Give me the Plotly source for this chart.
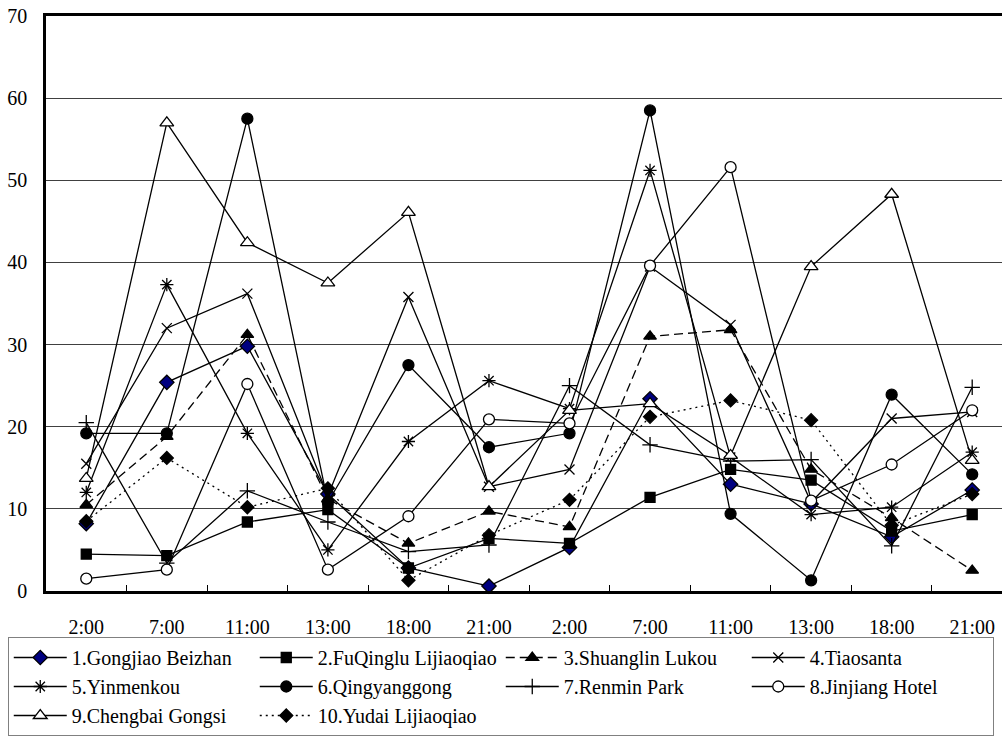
import plotly.graph_objects as go

# Time-of-day sampling slots over two consecutive days
time_labels = ["2:00", "7:00", "11:00", "13:00", "18:00", "21:00",
               "2:00", "7:00", "11:00", "13:00", "18:00", "21:00"]

gongjiao_beizhan = [8.2, 25.4, 29.8, 11.8, 2.8, 0.6, 5.3, 23.4, 13.0, 10.6, 6.6, 12.3]
fuqinglu_lijiaoqiao = [4.5, 4.3, 8.4, 9.9, 2.8, 6.4, 5.8, 11.4, 14.8, 13.5, 7.3, 9.3]
shuanglin_lukou = [10.5, 18.8, 31.2, 11.2, 5.8, 9.7, 7.8, 31.0, 31.8, 14.8, 8.9, 2.5]
tiaosanta = [15.5, 32.0, 36.2, 11.6, 35.8, 12.7, 14.8, 39.5, 32.4, 10.8, 21.0, 21.8]
yinmenkou = [12.0, 37.3, 19.2, 5.0, 18.2, 25.6, 22.2, 51.2, 16.3, 9.3, 10.2, 16.9]
qingyanggong = [19.2, 19.2, 57.5, 10.8, 27.5, 17.5, 19.2, 58.5, 9.4, 1.3, 23.9, 14.2]
renmin_park = [20.5, 3.4, 12.2, 8.4, 4.8, 5.6, 25.0, 17.8, 15.8, 16.0, 5.5, 24.8]
jinjiang_hotel = [1.5, 2.6, 25.2, 2.6, 9.1, 20.9, 20.4, 39.6, 51.6, 11.0, 15.4, 22.0]
chengbai_gongsi = [13.7, 57.0, 42.4, 37.5, 46.1, 12.7, 22.0, 22.8, 16.5, 39.5, 48.3, 15.9]
yudai_lijiaoqiao = [8.5, 16.2, 10.2, 12.5, 1.3, 6.8, 11.1, 21.2, 23.2, 20.8, 8.0, 11.8]

series_names = ["1.Gongjiao Beizhan", "2.FuQinglu Lijiaoqiao", "3.Shuanglin Lukou",
                "4.Tiaosanta", "5.Yinmenkou", "6.Qingyanggong", "7.Renmin Park",
                "8.Jinjiang Hotel", "9.Chengbai Gongsi", "10.Yudai Lijiaoqiao"]
series_values = [gongjiao_beizhan, fuqinglu_lijiaoqiao, shuanglin_lukou, tiaosanta,
                 yinmenkou, qingyanggong, renmin_park, jinjiang_hotel,
                 chengbai_gongsi, yudai_lijiaoqiao]

# (symbol, size, fill colour, line dash) per station
styles = [
    ("diamond", 11, "#000080", "solid"),
    ("square", 10, "black", "solid"),
    ("triangle-up", 11, "black", "9px,5px"),
    ("x-thin-open", 10, "black", "solid"),
    ("asterisk-open", 11, "black", "solid"),
    ("circle", 11, "black", "solid"),
    ("cross-thin-open", 11, "black", "solid"),
    ("circle", 11, "white", "solid"),
    ("triangle-up", 12, "white", "solid"),
    ("diamond", 10, "black", "2px,4px"),
]

FONT = "Liberation Serif"
x_idx = list(range(len(time_labels)))

fig = go.Figure()
for name, vals, (sym, size, fill, dash) in zip(series_names, series_values, styles):
    fig.add_trace(go.Scatter(
        x=x_idx, y=vals, name=name, mode="lines+markers",
        line=dict(color="black", width=1.3, dash=dash),
        marker=dict(symbol=sym, size=size, color=fill,
                    line=dict(color="black", width=1.3)),
        cliponaxis=False,
    ))

fig.update_layout(
    width=1002, height=736,
    margin=dict(l=46, r=0, t=16, b=140),
    paper_bgcolor="white", plot_bgcolor="white",
    font=dict(family=FONT, size=20, color="black"),
    showlegend=True,
    legend=dict(
        orientation="h",
        x=-0.040, xanchor="left",
        y=-0.08, yanchor="top",
        bordercolor="#808080", borderwidth=1, bgcolor="white",
        font=dict(family=FONT, size=20, color="black"),
        itemwidth=53,
        entrywidth=178, entrywidthmode="pixels",
        tracegroupgap=0,
        traceorder="normal",
    ),
)

fig.update_xaxes(
    range=[-0.5, len(time_labels) - 0.63],
    tickmode="array", tickvals=x_idx, ticktext=time_labels,
    ticks="", ticklabelstandoff=16,
    showgrid=False, zeroline=False,
    showline=True, linecolor="black", linewidth=2.5, mirror=True,
    minor=dict(tickmode="array",
               tickvals=[i + 0.5 for i in x_idx[:-1]],
               ticks="inside", ticklen=6, tickcolor="black", tickwidth=1,
               showgrid=False),
    tickfont=dict(family=FONT, size=20, color="black"),
)
fig.update_yaxes(
    range=[0, 70], tickmode="linear", tick0=0, dtick=10,
    ticks="", ticklabelstandoff=12,
    showgrid=True, gridcolor="#404040", gridwidth=1,
    zeroline=False,
    showline=True, linecolor="black", linewidth=2.5, mirror=False,
    tickfont=dict(family=FONT, size=20, color="black"),
)

fig.write_html("out.html")
